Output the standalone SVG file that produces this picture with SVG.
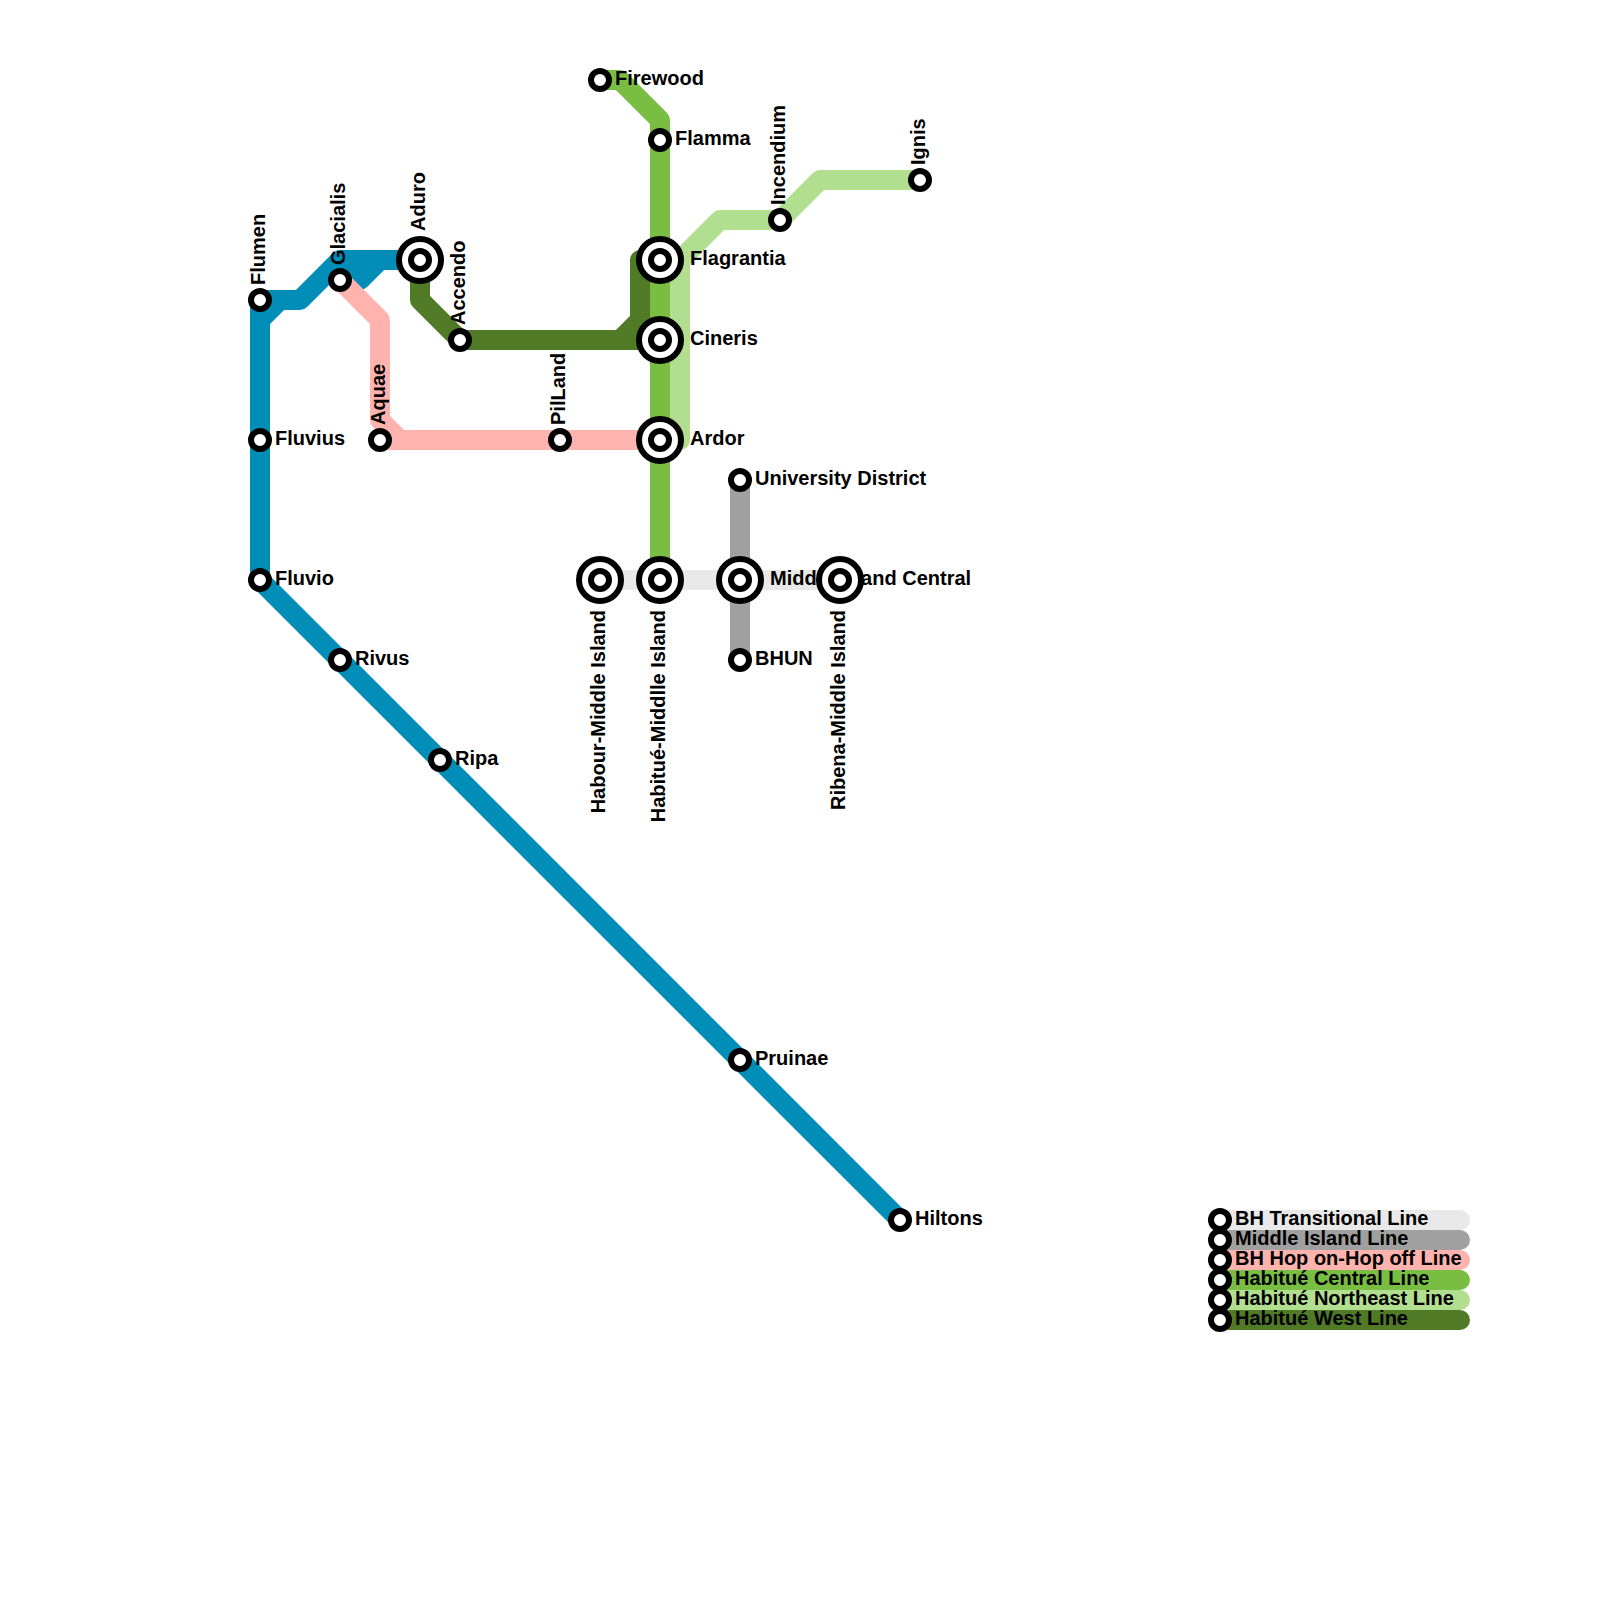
<svg xmlns="http://www.w3.org/2000/svg" width="1600" height="1600" viewBox="0 0 1600 1600">
<defs><style>
.l{fill:none;stroke-width:20;stroke-linejoin:round;stroke-linecap:round}
.bl{stroke:#008db8}.tr{stroke:#e9e9e9}.mi{stroke:#a0a0a0}.hp{stroke:#ffb3ae}.ce{stroke:#79bd43}.ne{stroke:#b2de8f}.we{stroke:#507a26}
.s{fill:#fff;stroke:#000;stroke-width:6}
.o{fill:#fff;stroke:#000;stroke-width:6}
text{font-family:"Liberation Sans",Arial,sans-serif;font-size:20px;font-weight:700;fill:#000}
.e{text-anchor:end}
</style></defs>
<rect width="1600" height="1600" fill="#fff"/>
<g id="connectors">
<path class="l bl" d="M900 1220L260 580V320L280 300H300L340 260H420M260 320V300H300M340 280H360L380 260H420"/>
<path class="l tr" d="M600 580H840"/>
<path class="l mi" d="M740 480V660"/>
<path class="l hp" d="M340 280L380 320V420L400 440H660M380 440H400"/>
<path class="l ce" d="M600 80H620L660 120V580"/>
<path class="l ne" d="M920 180H820L780 220H720L680 260V440"/>
<path class="l we" d="M420 260V300L460 340H660M660 260H640V320L620 340"/>
<path class="l tr" d="M1220 1220H1460"/>
<path class="l mi" d="M1220 1240H1460"/>
<path class="l hp" d="M1220 1260H1460"/>
<path class="l ce" d="M1220 1280H1460"/>
<path class="l ne" d="M1220 1300H1460"/>
<path class="l we" d="M1220 1320H1460"/>
</g>
<g id="n-flumen"><circle class="s" cx="260" cy="300" r="9"/><text transform="translate(265 285) rotate(-90)">Flumen</text></g>
<g id="n-fluvius"><circle class="s" cx="260" cy="440" r="9"/><text x="275" y="445">Fluvius</text></g>
<g id="n-fluvio"><circle class="s" cx="260" cy="580" r="9"/><text x="275" y="585">Fluvio</text></g>
<g id="n-rivus"><circle class="s" cx="340" cy="660" r="9"/><text x="355" y="665">Rivus</text></g>
<g id="n-ripa"><circle class="s" cx="440" cy="760" r="9"/><text x="455" y="765">Ripa</text></g>
<g id="n-pruinae"><circle class="s" cx="740" cy="1060" r="9"/><text x="755" y="1065">Pruinae</text></g>
<g id="n-hiltons"><circle class="s" cx="900" cy="1220" r="9"/><text x="915" y="1225">Hiltons</text></g>
<g id="n-glacialis"><circle class="s" cx="340" cy="280" r="9"/><text transform="translate(345 265) rotate(-90)">Glacialis</text></g>
<g id="n-aduro"><circle class="o" cx="420" cy="260" r="21"/><circle class="s" cx="420" cy="260" r="9"/><text transform="translate(425 231) rotate(-90)">Aduro</text></g>
<g id="n-accendo"><circle class="s" cx="460" cy="340" r="9"/><text transform="translate(465 325) rotate(-90)">Accendo</text></g>
<g id="n-aquae"><circle class="s" cx="380" cy="440" r="9"/><text transform="translate(385 425) rotate(-90)">Aquae</text></g>
<g id="n-pilland"><circle class="s" cx="560" cy="440" r="9"/><text transform="translate(565 425) rotate(-90)">PilLand</text></g>
<g id="n-firewood"><circle class="s" cx="600" cy="80" r="9"/><text x="615" y="85">Firewood</text></g>
<g id="n-flamma"><circle class="s" cx="660" cy="140" r="9"/><text x="675" y="145">Flamma</text></g>
<g id="n-incendium"><circle class="s" cx="780" cy="220" r="9"/><text transform="translate(785 205) rotate(-90)">Incendium</text></g>
<g id="n-ignis"><circle class="s" cx="920" cy="180" r="9"/><text transform="translate(925 165) rotate(-90)">Ignis</text></g>
<g id="n-flagrantia"><circle class="o" cx="660" cy="260" r="21"/><circle class="s" cx="660" cy="260" r="9"/><text x="690" y="265">Flagrantia</text></g>
<g id="n-cineris"><circle class="o" cx="660" cy="340" r="21"/><circle class="s" cx="660" cy="340" r="9"/><text x="690" y="345">Cineris</text></g>
<g id="n-ardor"><circle class="o" cx="660" cy="440" r="21"/><circle class="s" cx="660" cy="440" r="9"/><text x="690" y="445">Ardor</text></g>
<g id="n-university"><circle class="s" cx="740" cy="480" r="9"/><text x="755" y="485">University District</text></g>
<g id="n-bhun"><circle class="s" cx="740" cy="660" r="9"/><text x="755" y="665">BHUN</text></g>
<g id="n-habour"><circle class="o" cx="600" cy="580" r="21"/><circle class="s" cx="600" cy="580" r="9"/><text class="e" transform="translate(605 610) rotate(-90)">Habour-Middle Island</text></g>
<g id="n-habitue"><circle class="o" cx="660" cy="580" r="21"/><circle class="s" cx="660" cy="580" r="9"/><text class="e" transform="translate(665 610) rotate(-90)">Habitué-Middlle Island</text></g>
<g id="n-central"><circle class="o" cx="740" cy="580" r="21"/><circle class="s" cx="740" cy="580" r="9"/><text x="770" y="585">Middle Island Central</text></g>
<g id="n-ribena"><circle class="o" cx="840" cy="580" r="21"/><circle class="s" cx="840" cy="580" r="9"/><text class="e" transform="translate(845 610) rotate(-90)">Ribena-Middle Island</text></g>
<g id="legend">
<circle class="s" cx="1220" cy="1220" r="9"/><text x="1235" y="1225">BH Transitional Line</text>
<circle class="s" cx="1220" cy="1240" r="9"/><text x="1235" y="1245">Middle Island Line</text>
<circle class="s" cx="1220" cy="1260" r="9"/><text x="1235" y="1265">BH Hop on-Hop off Line</text>
<circle class="s" cx="1220" cy="1280" r="9"/><text x="1235" y="1285">Habitué Central Line</text>
<circle class="s" cx="1220" cy="1300" r="9"/><text x="1235" y="1305">Habitué Northeast Line</text>
<circle class="s" cx="1220" cy="1320" r="9"/><text x="1235" y="1325">Habitué West Line</text>
</g>
</svg>
